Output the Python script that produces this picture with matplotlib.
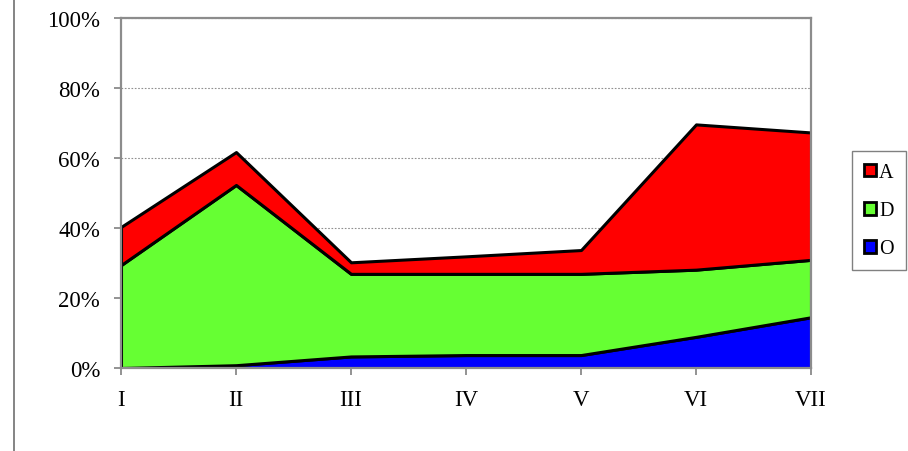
import matplotlib
matplotlib.use("Agg")
import matplotlib.pyplot as plt
from matplotlib.patches import Patch
from matplotlib.lines import Line2D
from matplotlib.ticker import FuncFormatter

categories = ["I", "II", "III", "IV", "V", "VI", "VII"]
series_names = ["O", "D", "A"]
o_vals = [0.0, 0.8, 3.3, 3.7, 3.7, 8.9, 14.5]
d_vals = [29.4, 51.5, 23.6, 23.2, 23.2, 19.2, 16.4]
a_vals = [10.9, 9.4, 3.3, 5.0, 6.8, 41.5, 36.4]
colors = ["#0000ff", "#66ff33", "#ff0000"]

plt.rcParams['font.family'] = ['Liberation Serif', 'DejaVu Serif']

fig = plt.figure(figsize=(9.08, 4.52), dpi=100)
ax = fig.add_axes([121/908, 1-369/452, 690/908, 350/452])

x = list(range(len(categories)))
ax.stackplot(x, [v/100 for v in o_vals], [v/100 for v in d_vals], [v/100 for v in a_vals],
             colors=colors, edgecolor="black", linewidth=2.2, zorder=3)

ax.set_xlim(0, len(categories)-1)
ax.set_ylim(0, 1)
ax.set_xticks(x)
ax.set_xticklabels(categories)
ax.set_yticks([0, 0.2, 0.4, 0.6, 0.8, 1.0])
ax.yaxis.set_major_formatter(FuncFormatter(lambda v, p: f"{int(round(v*100))}%"))
ax.tick_params(axis="both", labelsize=16.5, colors="#808080", labelcolor="black",
               length=5, width=1.2, direction="out")
ax.tick_params(axis="x", pad=10)
ax.tick_params(axis="y", pad=10)
ax.grid(axis="y", linestyle=(0, (1.5, 1.5)), color="#909090", linewidth=0.8, zorder=1)
for s in ax.spines.values():
    s.set_color("#8c8c8c")
    s.set_linewidth(1.6)
    s.set_zorder(4)

handles = [Patch(facecolor=colors[i], edgecolor="black", linewidth=2, label=series_names[i])
           for i in [2, 1, 0]]
leg = fig.legend(handles=handles, loc="upper left", bbox_to_anchor=(852/908, 1-152/452),
                 frameon=True, fancybox=False, edgecolor="#606060", fontsize=14.5,
                 handlelength=0.6, handleheight=0.6, handletextpad=0.15,
                 labelspacing=0.95, borderpad=0.6, borderaxespad=0)
leg.get_frame().set_linewidth(1.0)

fig.add_artist(Line2D([13.5/908, 13.5/908], [0, 1], color="#707070", linewidth=1.2,
                      transform=fig.transFigure))

fig.savefig("out.png", dpi=100)
